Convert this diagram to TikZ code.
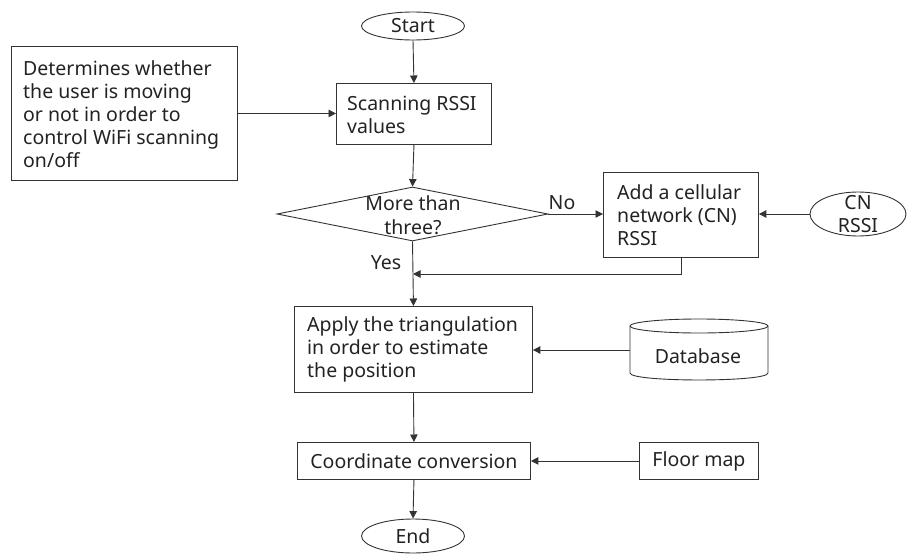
\documentclass[tikz,border=0pt]{standalone}
\usepackage{fontspec}
\setmainfont{Noto Sans}
\usetikzlibrary{shapes.geometric,arrows.meta}
\definecolor{ln}{HTML}{333333}
\definecolor{tx}{HTML}{222222}
\begin{document}
\begin{tikzpicture}[x=1pt,y=-1pt,
  every node/.style={text=tx, font=\fontsize{19.5}{23}\selectfont},
  box/.style={draw=ln, line width=0.9pt, inner xsep=0pt, inner ysep=0pt, anchor=north west},
  cbox/.style={box, align=center},
  oval/.style={draw=ln, line width=0.9pt, ellipse, inner sep=0pt},
  arr/.style={draw=ln, line width=0.9pt, -{Triangle[length=7.5pt,width=7.5pt]}},
  lab/.style={inner sep=0pt}]
\useasboundingbox (0,0) rectangle (907,554);

% start / end
\node[oval, minimum width=103pt, minimum height=28pt] (start) at (413,26) {Start};
\node[oval, minimum width=103pt, minimum height=34pt] (end) at (413,536) {End};

% left box
\node[box, minimum width=226pt, minimum height=134pt] (left) at (11,46) {};
\node[lab, align=left, anchor=west] (lefttext) at (23,114) {Determines whether\\the user is moving\\or not in order to\\control WiFi scanning\\on/off};

% scanning box
\node[box, minimum width=155pt, minimum height=61pt] (scan) at (336,83) {};
\node[lab, align=left, anchor=west] (scantext) at (347,115) {Scanning RSSI\\values};

% decision
\node[draw=ln, line width=0.9pt, diamond, aspect=5, inner sep=0pt, minimum width=271pt, minimum height=54pt] (dec) at (412.5,214) {};
\node[lab, align=center, font=\fontsize{19.5}{24}\selectfont] (dectext) at (413,215) {More than\\three?};
\node[lab] (no) at (562,203) {No};
\node[lab] (yes) at (386,263) {Yes};

% add CN box
\node[box, minimum width=155pt, minimum height=85pt] (add) at (603,172) {};
\node[lab, align=left, anchor=west] (addtext) at (617,215) {Add a cellular\\network (CN)\\RSSI};

% CN RSSI ellipse
\node[oval, minimum width=96pt, minimum height=44pt] (cn) at (858,214) {};
\node[lab, align=center] (cntext) at (858,214) {CN\\RSSI};

% merge point
\coordinate (merge) at (413,274);

% apply box
\node[box, minimum width=238pt, minimum height=86pt] (apply) at (294,306) {};
\node[lab, align=left, anchor=west] (applytext) at (307,349) {Apply the triangulation\\in order to estimate\\the position};

% database
\node[inner sep=0pt, minimum width=138pt, minimum height=61pt, anchor=north west] (db) at (630,319) {};
\draw[ln, line width=0.9pt] (699,326) ellipse[x radius=69, y radius=7];
\draw[ln, line width=0.9pt] (630,326) -- (630,373) .. controls (630,382.3) and (768,382.3) .. (768,373) -- (768,326);
\node[lab] (dbtext) at (698,356) {Database};

% coordinate conversion
\node[cbox, minimum width=233pt, minimum height=37pt] (coord) at (297,442) {Coordinate conversion};
\node[cbox, minimum width=119pt, minimum height=37pt] (floor) at (639,442) {Floor map};

% connectors
\draw[arr] (start.south) -- (scan.north);
\draw[arr] (left.east) -- (left.east -| scan.west);
\draw[arr] (scan.south) -- (dec.north);
\draw[arr] (dec.east) -- (dec.east -| add.west);
\draw[arr] (cn.west) -- (cn.west -| add.east);
\draw[arr] (dec.south) -- (apply.north);
\draw[arr] (add.south) |- (merge);
\draw[arr] (db.west |- 350,350) -- (apply.east |- 350,350);
\draw[arr] (apply.south) -- (coord.north);
\draw[arr] (floor.west) -- (coord.east);
\draw[arr] (coord.south) -- (end.north);
\end{tikzpicture}
\end{document}
